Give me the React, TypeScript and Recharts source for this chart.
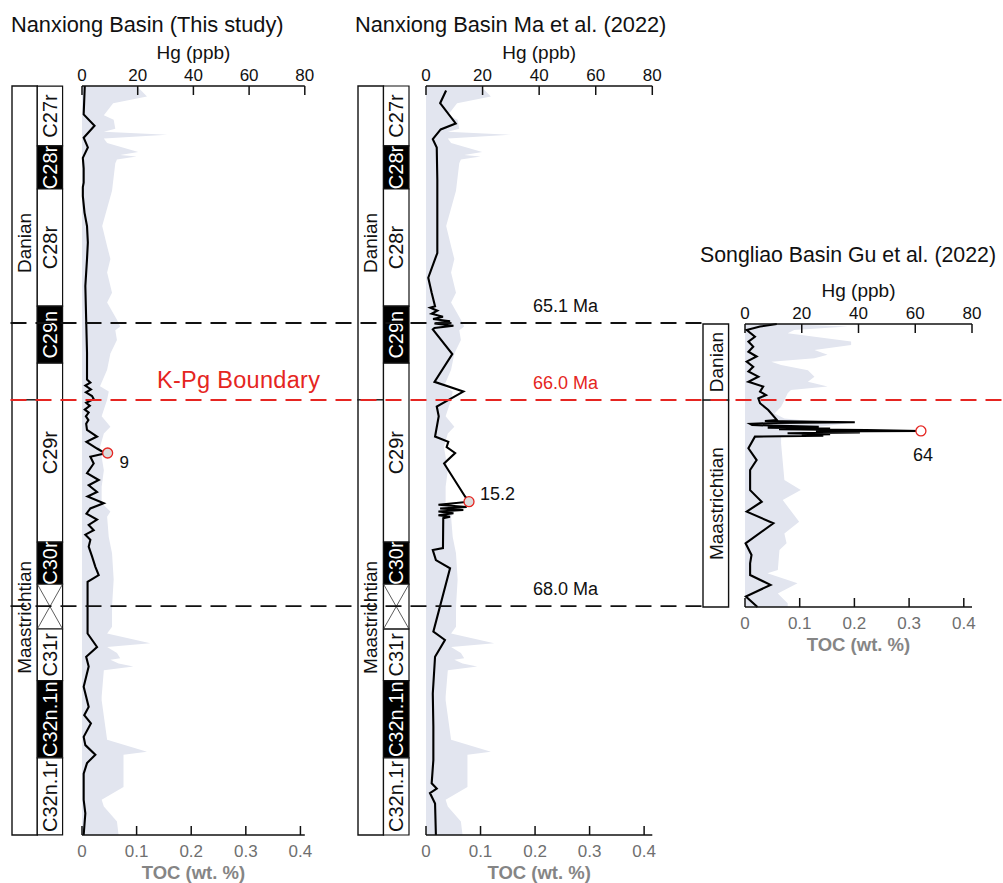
import React from "react";
import {
  Area,
  ComposedChart,
  Line,
  ReferenceArea,
  ReferenceDot,
  ReferenceLine,
  XAxis,
  YAxis,
} from "recharts";

const FONT = "'Liberation Sans', Arial, Helvetica, sans-serif";
const RED = "#e52521";

// stratigraphic level: 0 = top of section, 100 = base of section
const hgTicks = [0, 20, 40, 60, 80];
const tocTicks = [0, 0.1, 0.2, 0.3, 0.4];

const nanxiongStages = [
  { name: "Danian", top: 0, base: 41.9 },
  { name: "Maastrichtian", top: 41.9, base: 100 },
];

const songliaoStages = [
  { name: "Danian", top: 0, base: 26.9 },
  { name: "Maastrichtian", top: 26.9, base: 100 },
];

// polarity: n = normal (black), r = reversed (white), x = undetermined
const nanxiongChrons = [
  { name: "C27r", top: 0, base: 8.0, polarity: "r" },
  { name: "C28r", top: 8.0, base: 13.75, polarity: "n" },
  { name: "C28r", top: 13.75, base: 29.4, polarity: "r" },
  { name: "C29n", top: 29.4, base: 37.0, polarity: "n" },
  { name: "C29r", top: 37.0, base: 60.9, polarity: "r" },
  { name: "C30r", top: 60.9, base: 66.5, polarity: "n" },
  { name: "", top: 66.5, base: 72.5, polarity: "x" },
  { name: "C31r", top: 72.5, base: 79.4, polarity: "r" },
  { name: "C32n.1n", top: 79.4, base: 89.7, polarity: "n" },
  { name: "C32n.1r", top: 89.7, base: 100, polarity: "r" },
];

// Hg (ppb) of the Nanxiong section, this study
const thisStudyHgRaw: [number, number][] = [
  [0, 1.0], [3.8, 0.6], [5.3, 4.5], [6.9, 0.6], [8.2, 2.1], [9.6, 0.3], [11.0, 0.6],
  [12.9, 0.6], [13.5, 0.3], [14.7, 0.3], [16.9, 0.9], [18.7, 1.8], [20.9, 2.1],
  [23.1, 1.8], [26.7, 1.2], [31.2, 1.5], [35.6, 1.8], [39.2, 1.8], [39.6, 3.0],
  [40.0, 1.2], [40.5, 3.2], [40.9, 1.4], [41.4, 3.6], [41.8, 4.2], [42.3, 1.5],
  [42.7, 2.8], [43.2, 1.0], [43.6, 2.4], [44.1, 1.4], [44.6, 2.3], [45.1, 1.5],
  [45.9, 1.8], [46.8, 5.4], [47.5, 1.6], [48.4, 5.4], [48.8, 7.2], [49.0, 9.2],
  [49.2, 6.5], [49.5, 3.0], [50.4, 4.2], [51.7, 1.8], [52.6, 6.0], [53.3, 2.4],
  [54.2, 5.4], [54.8, 2.0], [55.7, 7.8], [56.4, 3.0], [57.1, 1.6], [57.9, 5.4],
  [58.6, 2.4], [59.3, 4.2], [59.9, 1.2], [60.6, 3.0], [61.5, 2.4], [62.8, 3.6],
  [64.2, 4.8], [65.3, 6.0], [66.2, 2.0], [73.1, 2.0], [74.9, 5.4], [76.2, 1.5],
  [77.5, 2.4], [80.2, 0.6], [82.9, 2.4], [84.0, 0.8], [85.1, 3.2], [86.9, 0.6],
  [88.0, 1.2], [89.3, 4.8], [90.4, 1.8], [91.8, 0.6], [95.3, 0.6], [97.1, 1.2],
  [100, 0.6],
];

// Hg (ppb) of the Nanxiong section, Ma et al. (2022)
const maHgRaw: [number, number][] = [
  [0.6, 7.1], [2.3, 5.0], [5.0, 10.5], [5.8, 5.2], [7.1, 2.4], [8.2, 3.8], [12.5, 4.0],
  [22.3, 4.0], [23.1, 3.2], [25.6, 0.8], [27.6, 2.0], [29.4, 3.2], [29.6, 1.5],
  [30.0, 4.0], [30.4, 2.0], [30.8, 6.0], [31.1, 2.5], [31.4, 8.5], [31.7, 3.0],
  [32.0, 9.7], [32.3, 3.0], [32.5, 2.4], [35.8, 9.3], [39.5, 3.0], [40.8, 13.2],
  [42.8, 3.8], [44.1, 4.5], [46.8, 3.2], [47.5, 7.9], [48.2, 7.3], [49.0, 10.3],
  [50.4, 6.4], [54.8, 13.8], [55.5, 15.2], [55.9, 4.4], [56.2, 14.4], [56.4, 5.0],
  [56.6, 13.2], [56.8, 4.4], [57.05, 9.7], [57.3, 4.4], [57.5, 8.5], [57.7, 6.1],
  [61.7, 6.0], [61.95, 2.4], [63.3, 3.5], [64.4, 8.5], [72.85, 2.6], [73.96, 6.7],
  [76.2, 3.2], [81.1, 2.4], [85.5, 2.6], [90.0, 2.6], [93.1, 2.0], [93.8, 3.8],
  [94.4, 1.4], [95.8, 3.2], [100, 3.5],
];

// TOC (wt. %) of the Nanxiong section (shared by both Nanxiong panels)
const nanxiongTocRaw: [number, number][] = [
  [0, 0.1], [1.4, 0.119], [2.3, 0.057], [3.9, 0.04], [4.5, 0.058], [5.7, 0.061],
  [6.1, 0.04], [6.5, 0.156], [7.0, 0.04], [7.6, 0.046], [8.8, 0.103], [9.2, 0.07],
  [9.4, 0.1], [9.8, 0.064], [10.3, 0.061], [14.0, 0.055], [18.7, 0.037],
  [21.4, 0.046], [23.1, 0.052], [24.9, 0.046], [27.6, 0.055], [28.9, 0.046],
  [31.2, 0.064], [32.1, 0.07], [32.6, 0.061], [33.9, 0.064], [35.7, 0.052],
  [37.9, 0.046], [40.1, 0.033], [40.8, 0.049], [41.9, 0.046], [44.1, 0.036],
  [45.5, 0.052], [46.4, 0.04], [48.2, 0.033], [51.3, 0.04], [53.5, 0.036],
  [55.7, 0.036], [56.8, 0.052], [57.5, 0.046], [60.2, 0.049], [62.4, 0.055],
  [65.9, 0.058], [69.5, 0.055], [72.2, 0.055], [73.1, 0.046], [74.4, 0.125],
  [74.9, 0.046], [75.7, 0.064], [76.4, 0.07], [76.6, 0.052], [77.1, 0.067],
  [77.5, 0.094], [78.0, 0.04], [81.5, 0.036], [82.0, 0.036], [87.3, 0.046],
  [88.9, 0.119], [89.3, 0.076], [93.6, 0.076], [95.3, 0.036], [96.2, 0.04],
  [98.2, 0.064], [100, 0.067],
];

// Hg (ppb) of the Songliao section, Gu et al. (2022)
const guHgRaw: [number, number][] = [
  [0, 11.2], [0.9, 5.3], [2.1, 0.6], [4.5, 3.5], [6.2, 1.2], [8.0, 2.9], [9.8, 1.2],
  [11.5, 4.1], [13.3, 0.6], [15.1, 2.9], [16.8, 1.2], [18.6, 4.7], [20.4, 1.2],
  [22.1, 6.4], [23.9, 5.3], [25.1, 7.4], [26.3, 4.7], [28.0, 5.3], [30.4, 8.2],
  [33.9, 11.2], [34.3, 7.0], [34.7, 38.7], [35.0, 10.0], [35.3, 1.8], [35.7, 2.5],
  [36.3, 26.0], [36.6, 8.0], [36.9, 30.0], [37.2, 12.0], [37.5, 42.8], [37.8, 62.0],
  [38.0, 25.0], [38.3, 40.5], [38.6, 15.0], [38.9, 30.0], [39.2, 20.0], [39.5, 27.6],
  [39.8, 3.5], [43.9, 1.2], [48.1, 4.1], [51.6, 1.8], [58.7, 1.8], [62.8, 5.9],
  [66.3, 0.6], [70.4, 10.0], [77.5, 0.2], [81.6, 2.3], [84.6, 1.8], [88.7, 1.8],
  [92.2, 9.0], [96.3, 0.3], [100, 4.4],
];

// TOC (wt. %) of the Songliao section
const guTocRaw: [number, number][] = [
  [0, 0.06], [0.9, 0.188], [2.1, 0.09], [3.3, 0.078], [6.2, 0.194], [7.4, 0.194],
  [9.2, 0.127], [10.9, 0.151], [12.1, 0.127], [13.3, 0.048], [14.5, 0.066],
  [16.3, 0.115], [18.6, 0.127], [20.4, 0.115], [22.1, 0.151], [23.3, 0.084],
  [24.5, 0.078], [26.9, 0.072], [29.2, 0.066], [31.6, 0.054], [33.4, 0.072],
  [34.5, 0.133], [35.1, 0.188], [37.5, 0.084], [38.6, 0.157], [39.8, 0.066],
  [42.2, 0.066], [55.1, 0.072], [58.7, 0.102], [62.2, 0.069], [69.9, 0.099],
  [74.0, 0.072], [77.5, 0.076], [79.9, 0.063], [86.9, 0.06], [88.1, 0.041],
  [91.6, 0.096], [95.2, 0.06], [98.7, 0.078], [100, 0.078],
];

// marked Hg maxima
const thisStudyPeak = { level: 49.0, hg: 9.2, label: "9" };
const maPeak = { level: 55.5, hg: 15.2, label: "15.2" };
const guPeak = { level: 37.8, hg: 62.0, label: "64" };

// age horizons, on the Nanxiong level scale
const ageLines = [
  { label: "65.1 Ma", level: 31.64, kpg: false },
  { label: "66.0 Ma", level: 41.92, kpg: true },
  { label: "68.0 Ma", level: 69.43, kpg: false },
];

const toHg = (rows: [number, number][]) => rows.map(([level, hg]) => ({ level, hg }));
const toToc = (rows: [number, number][]) => rows.map(([level, toc]) => ({ level, toc }));

type Stage = { name: string; top: number; base: number };
type Chron = Stage & { polarity: string };

function StratColumn({
  left,
  top,
  height,
  colWidth,
  stages,
  chrons,
}: {
  left: number;
  top: number;
  height: number;
  colWidth: number;
  stages: Stage[];
  chrons?: Chron[];
}) {
  const cols = chrons ? 2 : 1;
  const pad = 3;
  return (
    <div style={{ position: "absolute", left: left - pad, top: top - pad }}>
      <ComposedChart
        layout="vertical"
        data={stages}
        width={colWidth * cols + pad * 2}
        height={height + pad * 2}
        margin={{ top: pad, right: pad, bottom: pad, left: pad }}
      >
        <XAxis type="number" domain={[0, cols]} allowDataOverflow hide />
        <YAxis type="number" dataKey="top" domain={[0, 100]} allowDataOverflow hide />
        {stages.map((s) => (
          <ReferenceArea
            key={s.name}
            x1={0}
            x2={1}
            y1={s.top}
            y2={s.base}
            fill="#fff"
            fillOpacity={1}
            stroke="#111"
            strokeWidth={1.4}
            label={{
              value: s.name,
              angle: -90,
              position: "center",
              fontSize: 19,
              fill: "#111",
            }}
          />
        ))}
        {chrons?.map((c, i) => (
          <ReferenceArea
            key={i}
            x1={1}
            x2={2}
            y1={c.top}
            y2={c.base}
            fill={c.polarity === "n" ? "#000" : "#fff"}
            fillOpacity={1}
            stroke="#111"
            strokeWidth={1.2}
            label={{
              value: c.name,
              angle: -90,
              position: "center",
              fontSize: 20,
              fill: c.polarity === "n" ? "#fff" : "#111",
            }}
          />
        ))}
        {chrons
          ?.filter((c) => c.polarity === "x")
          .flatMap((c, i) => [
            <ReferenceLine
              key={`a${i}`}
              segment={[
                { x: 1, y: c.top },
                { x: 2, y: c.base },
              ]}
              stroke="#333"
              strokeWidth={0.8}
            />,
            <ReferenceLine
              key={`b${i}`}
              segment={[
                { x: 2, y: c.top },
                { x: 1, y: c.base },
              ]}
              stroke="#333"
              strokeWidth={0.8}
            />,
          ])}
      </ComposedChart>
    </div>
  );
}

function ProxyPanel({
  left,
  top,
  width,
  height,
  hg,
  toc,
  tocMax,
  peak,
  peakLabel,
  peakFill,
}: {
  left: number;
  top: number;
  width: number;
  height: number;
  hg: { level: number; hg: number }[];
  toc: { level: number; toc: number }[];
  tocMax: number;
  peak: { level: number; hg: number; label: string };
  peakLabel: Record<string, unknown>;
  peakFill: string;
}) {
  const topAxis = 50;
  const bottomAxis = 48;
  const side = 30;
  return (
    <div style={{ position: "absolute", left: left - side, top: top - topAxis }}>
      <ComposedChart
        layout="vertical"
        width={width + side * 2}
        height={height + topAxis + bottomAxis}
        margin={{ top: 0, right: side, bottom: 0, left: side }}
      >
        <XAxis
          xAxisId="hg"
          orientation="top"
          type="number"
          domain={[0, 80]}
          ticks={hgTicks}
          interval={0}
          height={topAxis}
          tickSize={-9}
          tickMargin={14}
          axisLine={{ stroke: "#111", strokeWidth: 1.5 }}
          tickLine={{ stroke: "#111", strokeWidth: 1.5 }}
          tick={{ fill: "#111", fontSize: 17 }}
          label={{
            value: "Hg (ppb)",
            position: "insideTop",
            offset: 10,
            fill: "#111",
            fontSize: 19,
          }}
        />
        <XAxis
          xAxisId="toc"
          orientation="bottom"
          type="number"
          domain={[0, tocMax]}
          ticks={tocTicks}
          interval={0}
          height={bottomAxis}
          tickSize={-9}
          tickMargin={19}
          axisLine={{ stroke: "#111", strokeWidth: 1.5 }}
          tickLine={{ stroke: "#111", strokeWidth: 1.5 }}
          tick={{ fill: "#6f6f6f", fontSize: 17 }}
          label={{
            value: "TOC (wt. %)",
            position: "insideBottom",
            offset: 4,
            fill: "#858585",
            fontSize: 18.5,
            fontWeight: "bold",
          }}
        />
        <YAxis type="number" dataKey="level" domain={[0, 100]} hide />
        <Area
          data={toc}
          xAxisId="toc"
          dataKey="toc"
          type="linear"
          stroke="none"
          fill="#e2e5ef"
          fillOpacity={1}
          isAnimationActive={false}
        />
        <Line
          data={hg}
          xAxisId="hg"
          dataKey="hg"
          type="linear"
          stroke="#000"
          strokeWidth={2.1}
          dot={false}
          isAnimationActive={false}
        />
        <ReferenceDot
          xAxisId="hg"
          x={peak.hg}
          y={peak.level}
          r={5}
          fill={peakFill}
          stroke={RED}
          strokeWidth={1.3}
          label={{ value: peak.label, fill: "#111", ...peakLabel }}
        />
      </ComposedChart>
    </div>
  );
}

function AgeOverlay() {
  const songliaoEdge = 703;
  const lineStart = 10.5;
  const labelX = 533;
  return (
    <div style={{ position: "absolute", left: 0, top: 0, pointerEvents: "none" }}>
      <ComposedChart
        layout="vertical"
        data={ageLines}
        width={1003}
        height={883}
        margin={{ top: 86, right: 0, bottom: 48, left: 0 }}
      >
        <XAxis type="number" domain={[0, 1003]} allowDataOverflow hide />
        <YAxis type="number" dataKey="level" domain={[0, 100]} allowDataOverflow hide />
        {ageLines.map((a) => (
          <ReferenceLine
            key={a.label}
            segment={[
              { x: lineStart, y: a.level },
              { x: a.kpg ? 1003 : songliaoEdge, y: a.level },
            ]}
            stroke={a.kpg ? RED : "#111"}
            strokeWidth={1.8}
            strokeDasharray="16 9"
            label={(p: any) => (
              <g>
                <text
                  x={labelX}
                  y={p.viewBox.y - 11}
                  fill={a.kpg ? RED : "#111"}
                  fontSize={18}
                  fontFamily={FONT}
                >
                  {a.label}
                </text>
                {a.kpg && (
                  <text
                    x={157}
                    y={p.viewBox.y - 12}
                    fill={RED}
                    fontSize={23.5}
                    letterSpacing={0.3}
                    fontFamily={FONT}
                  >
                    K-Pg Boundary
                  </text>
                )}
              </g>
            )}
          />
        ))}
      </ComposedChart>
    </div>
  );
}

export default function App() {
  return (
    <div
      style={{
        position: "absolute",
        left: 0,
        top: 0,
        width: 1003,
        height: 883,
        background: "#fff",
        fontFamily: FONT,
        overflow: "hidden",
      }}
    >
      <svg width={1003} height={883} style={{ position: "absolute", left: 0, top: 0 }}>
        <text x={11} y={31.5} fontSize={21.8} fill="#111" fontFamily={FONT}>
          Nanxiong Basin (This study)
        </text>
        <text x={355} y={31.5} fontSize={21.8} fill="#111" fontFamily={FONT}>
          Nanxiong Basin Ma et al. (2022)
        </text>
        <text x={700} y={261.5} fontSize={21.3} fill="#111" fontFamily={FONT}>
          Songliao Basin Gu et al. (2022)
        </text>
      </svg>

      <StratColumn
        left={11.7}
        top={86}
        height={749}
        colWidth={25.3}
        stages={nanxiongStages}
        chrons={nanxiongChrons}
      />
      <ProxyPanel
        left={81.7}
        top={86}
        width={222.8}
        height={749}
        hg={toHg(thisStudyHgRaw)}
        toc={toToc(nanxiongTocRaw)}
        tocMax={0.408}
        peak={thisStudyPeak}
        peakLabel={{ position: "right", offset: 7, dy: 9, fontSize: 17 }}
        peakFill="#dcdcdc"
      />

      <StratColumn
        left={358.3}
        top={86}
        height={749}
        colWidth={25.5}
        stages={nanxiongStages}
        chrons={nanxiongChrons}
      />
      <ProxyPanel
        left={426}
        top={86}
        width={226.3}
        height={749}
        hg={toHg(maHgRaw)}
        toc={toToc(nanxiongTocRaw)}
        tocMax={0.415}
        peak={maPeak}
        peakLabel={{ position: "right", offset: 6, dy: -8, fontSize: 18 }}
        peakFill="#dcdcdc"
      />

      <StratColumn
        left={702.7}
        top={324}
        height={283}
        colWidth={25.6}
        stages={songliaoStages}
      />
      <ProxyPanel
        left={745}
        top={324}
        width={227}
        height={283}
        hg={toHg(guHgRaw)}
        toc={toToc(guTocRaw)}
        tocMax={0.415}
        peak={guPeak}
        peakLabel={{ position: "bottom", offset: 12, dx: 2, fontSize: 18 }}
        peakFill="#fff"
      />

      <AgeOverlay />
    </div>
  );
}
